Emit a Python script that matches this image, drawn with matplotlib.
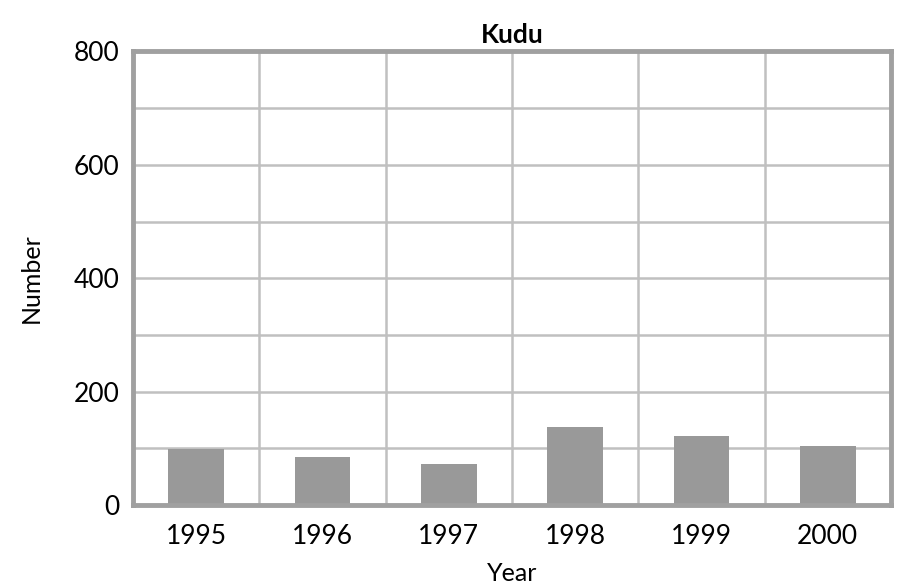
import matplotlib
matplotlib.use("Agg")
import matplotlib.pyplot as plt
import numpy as np

years = ["1995", "1996", "1997", "1998", "1999", "2000"]
numbers = [99, 85, 72, 138, 122, 104]
yticks = [0, 200, 400, 600, 800]

plt.rcParams['font.family'] = ['Lato', 'DejaVu Sans']

fig = plt.figure(figsize=(8.99, 5.88), dpi=100)
ax = fig.add_axes([0.148, 0.1412, 0.843, 0.7713])

x = np.arange(len(years))
ax.bar(x, numbers, width=0.44, color="#999999", zorder=3)

ax.set_xlim(-0.5, len(years) - 0.5)
ax.set_ylim(0, 800)
ax.set_yticks(yticks)
ax.set_yticks(np.arange(100, 800, 200), minor=True)
ax.set_xticks(x)
ax.set_xticklabels(years)
ax.set_xticks(np.arange(0.5, len(years) - 0.5, 1), minor=True)

ax.grid(True, axis="y", which="both", color="#c0c0c0", linewidth=1.8, zorder=0)
ax.grid(True, axis="x", which="minor", color="#c0c0c0", linewidth=1.8, zorder=0)
ax.grid(False, axis="x", which="major")
ax.set_axisbelow(True)
ax.tick_params(which="both", length=0)
ax.tick_params(axis="x", labelsize=19, pad=14)
ax.tick_params(axis="y", labelsize=19, pad=10)

for s in ax.spines.values():
    s.set_color("#a0a0a0")
    s.set_linewidth(3.5)
    s.set_zorder(5)

ax.set_title("Kudu", fontsize=19, fontweight="bold", pad=6)
ax.set_xlabel("Year", fontsize=18, labelpad=9)
ax.set_ylabel("Number", fontsize=18, labelpad=22)

fig.savefig("out.png", dpi=100)
